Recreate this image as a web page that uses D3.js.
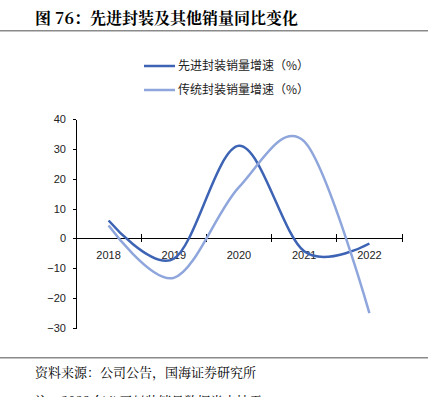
<!DOCTYPE html>
<html>
<head>
<meta charset="utf-8">
<style>
    body { margin: 0; background: #fff; }
    svg { display: block; font-family: "Noto Sans CJK SC", "Liberation Sans", sans-serif; }
    .axis path, .axis line { fill: none; stroke: #000; stroke-width: 1; shape-rendering: crispEdges; }
    .axis text { font-family: "Liberation Sans", Arial, sans-serif; font-size: 11px; fill: #222; }
</style>
</head>
<body>
<div id="containerChart"></div>
<script src="https://cdn.jsdelivr.net/npm/d3@7"></script>
<script>
    var years = ["2018", "2019", "2020", "2021", "2022"];
    var advanced = [6.0, -6.8, 31.0, -4.3, -1.7];      // 先进封装销量增速（%）
    var traditional = [4.3, -13.2, 17.2, 32.5, -25.0]; // 传统封装销量增速（%）
    var yTicks = [40, 30, 20, 10, 0, -10, -20, -30];
    var seriesNames = ["先进封装销量增速（%）", "传统封装销量增速（%）"];
    var seriesColors = ["#3d63b4", "#8fa6dc"];

    var width = 442, height = 397;
    var plotLeft = 76, plotRight = 402, plotTop = 119, plotBottom = 328;

    var svg = d3.select("#containerChart")
        .append("svg")
        .attr("width", width)
        .attr("height", height);

    // title + rule
    svg.append("text")
        .attr("x", 35).attr("y", 24)
        .style("font-size", "16px").style("font-weight", "bold")
        .style("font-family", "'Noto Serif CJK SC', 'Noto Sans CJK SC', serif")
        .text("图 76：先进封装及其他销量同比变化");
    svg.append("rect").attr("x", 0).attr("y", 30).attr("width", 428).attr("height", 1.5).attr("fill", "#8a8a8a");

    // scales
    var xScale = d3.scaleBand().domain(years).range([plotLeft, plotRight]);
    var yScale = d3.scaleLinear().domain([-30, 40]).range([plotBottom, plotTop]);

    // y axis
    svg.append("g")
        .attr("class", "axis")
        .attr("transform", "translate(" + plotLeft + ",0)")
        .call(d3.axisLeft(yScale).tickValues(yTicks).tickSize(3).tickPadding(7).tickSizeOuter(0));

    // x axis at zero, ticks across the line
    var xAxis = svg.append("g")
        .attr("class", "axis")
        .attr("transform", "translate(0," + yScale(0) + ")");
    xAxis.append("line").attr("x1", plotLeft).attr("x2", plotRight).attr("y1", 0).attr("y2", 0);
    xAxis.selectAll(".tk")
        .data(years.concat(["end"]))
        .enter().append("line")
        .attr("class", "tk")
        .attr("x1", function (d, i) { return plotLeft + i * xScale.step(); })
        .attr("x2", function (d, i) { return plotLeft + i * xScale.step(); })
        .attr("y1", -4).attr("y2", 4);
    xAxis.selectAll("text")
        .data(years)
        .enter().append("text")
        .attr("x", function (d) { return xScale(d) + xScale.bandwidth() / 2; })
        .attr("y", 21)
        .style("text-anchor", "middle")
        .text(function (d) { return d; });

    // lines
    var line = d3.line()
        .x(function (d, i) { return xScale(years[i]) + xScale.bandwidth() / 2; })
        .y(function (d) { return yScale(d); })
        .curve(d3.curveCatmullRom.alpha(0));

    [advanced, traditional].forEach(function (vals, k) {
        svg.append("path")
            .datum(vals)
            .attr("d", line)
            .attr("fill", "none")
            .attr("stroke", seriesColors[k])
            .attr("stroke-width", 2.5);
    });

    // legend
    var legend = svg.selectAll(".legend")
        .data(seriesNames)
        .enter().append("g")
        .attr("class", "legend")
        .attr("transform", function (d, i) { return "translate(144," + (66 + i * 24) + ")"; });
    legend.append("line")
        .attr("x1", 0).attr("x2", 31).attr("y1", 0).attr("y2", 0)
        .attr("stroke", function (d, i) { return seriesColors[i]; })
        .attr("stroke-width", 2.5);
    legend.append("text")
        .attr("x", 34).attr("y", 0).attr("dy", "0.35em")
        .style("font-size", "12px").style("fill", "#222")
        .text(function (d) { return d; });

    // footer
    svg.append("rect").attr("x", 0).attr("y", 357).attr("width", 428).attr("height", 1.5).attr("fill", "#8a8a8a");
    svg.append("text")
        .attr("x", 35).attr("y", 377)
        .style("font-size", "13px")
        .style("font-family", "'Noto Serif CJK SC', 'Noto Sans CJK SC', serif")
        .text("资料来源：公司公告，国海证券研究所");
    svg.append("text")
        .attr("x", 35).attr("y", 406)
        .style("font-size", "13px")
        .style("font-family", "'Noto Serif CJK SC', 'Noto Sans CJK SC', serif")
        .text("注：2023 年公司封装销量数据尚未披露");
</script>
</body>
</html>
